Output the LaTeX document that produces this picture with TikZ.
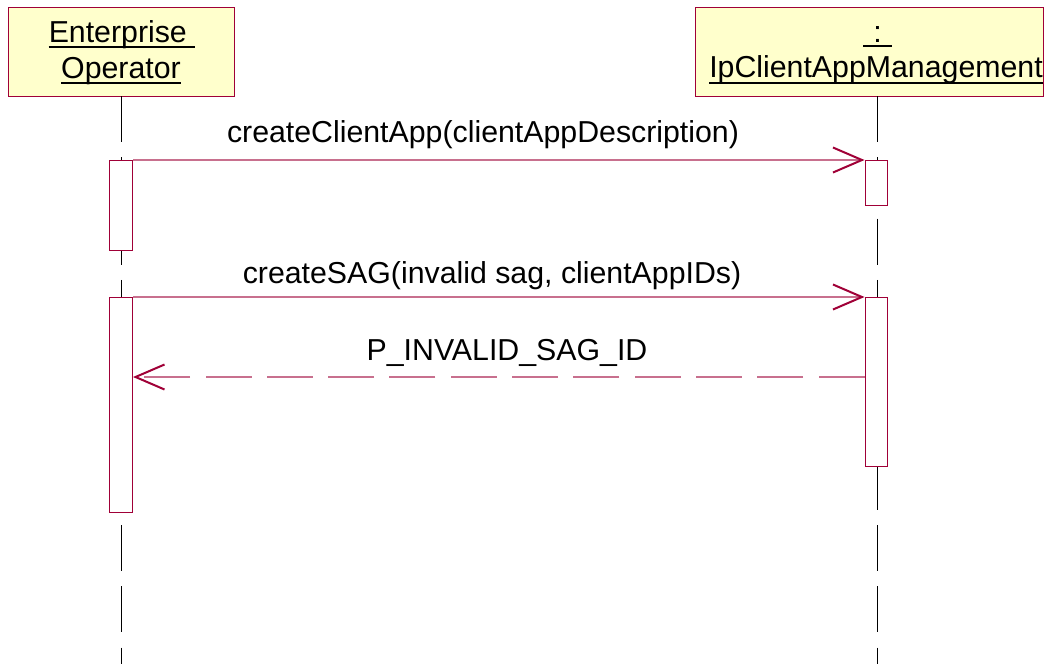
\documentclass[tikz,border=0pt]{standalone}
\usepackage{fontspec}
\setmainfont{Liberation Sans}
\usetikzlibrary{arrows.meta}
\definecolor{dark}{RGB}{160,0,55}
\definecolor{msgcol}{RGB}{200,112,142}
\definecolor{headfill}{RGB}{255,255,204}
\tikzset{
  txt/.style={inner sep=0pt, font=\fontsize{30.3}{36}\selectfont},
  headbox/.style={draw=dark, fill=headfill, line width=1pt, inner sep=0pt},
  actbox/.style={draw=dark, fill=white, line width=1pt, inner sep=0pt, minimum width=23pt},
  lifeline/.style={black, line width=1pt, dash pattern=on 46pt off 15.3pt},
  uline/.style={black, line width=2pt},
  tip/.style={-{Straight Barb[length=29pt, width=25pt, line width=2pt, color=dark]}},
  msg/.style={msgcol, line width=1.2pt, tip},
  ret/.style={msgcol, line width=1.2pt, dash pattern=on 46pt off 15.3pt, tip}
}
\begin{document}
\begin{tikzpicture}[x=1pt, y=-1pt]
\useasboundingbox (0,0) rectangle (1048,664);
% heads
\node[headbox, minimum width=226pt, minimum height=89pt] (lhead) at (121,51.5) {};
\node[headbox, minimum width=348pt, minimum height=89pt] (rhead) at (869,51.5) {};
\node[txt, anchor=base] (l1) at (122,42) {Enterprise\kern8.4pt};
\node[txt, anchor=base] (l2) at (121,78) {Operator};
\node[txt, anchor=base] (r1) at (877.5,42) {\kern10pt:\kern10pt};
\node[txt, anchor=base] (r2) at (876,77) {IpClientAppManagement};
\draw[uline] ([yshift=-5pt]l1.base west) -- ([yshift=-5pt]l1.base east);
\draw[uline] ([yshift=-5pt]l2.base west) -- ([yshift=-5pt]l2.base east);
\draw[uline] ([yshift=-4pt]r1.base west) -- ([yshift=-4pt]r1.base east);
\draw[uline] ([yshift=-6pt]r2.base west) -- ([yshift=-6pt]r2.base east);
% lifelines
\coordinate (lend) at (121,664);
\coordinate (rend) at (877,664);
\draw[lifeline] (121,96) -- (lend);
\draw[lifeline] (877,96) -- (rend);
% activations
\node[actbox, anchor=north, minimum height=90pt] (la1) at (121,160) {};
\node[actbox, anchor=north, minimum height=215pt] (la2) at (121,297) {};
\node[actbox, anchor=north, minimum height=45pt, minimum width=22pt] (ra1) at (876,160) {};
\node[actbox, anchor=north, minimum height=169pt, minimum width=22pt] (ra2) at (876,297) {};
% messages
\draw[msg] (la1.north east) -- (ra1.north west);
\node[txt, anchor=base] (m1) at (483,142) {createClientApp(clientAppDescription)};
\draw[msg] (la2.north east) -- (ra2.north west);
\node[txt, anchor=base] (m2) at (492,283) {createSAG(invalid sag, clientAppIDs)};
\draw[ret] (ra2.west |- 0,377) -- (la2.east |- 0,377);
\node[txt, anchor=base] (m3) at (507,360) {P\_INVALID\_SAG\_ID};
\end{tikzpicture}
\end{document}
